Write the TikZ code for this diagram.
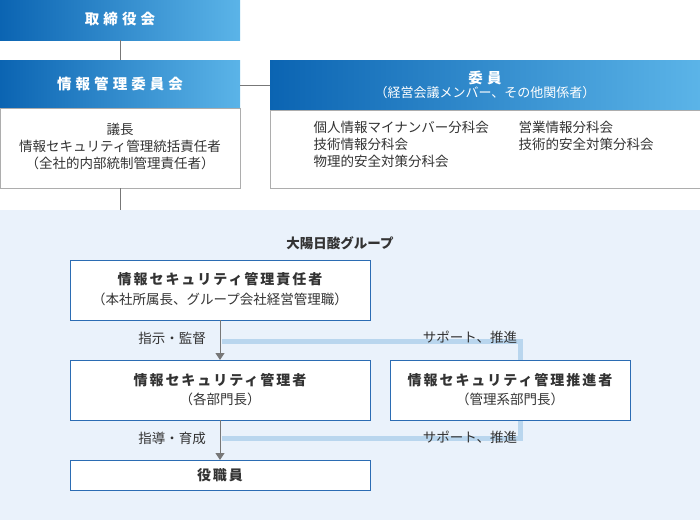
\documentclass[tikz,border=0pt]{standalone}
\usepackage{fontspec}
\setmainfont{Noto Sans CJK JP}
\newfontfamily\hdrfont[LetterSpace=28]{Noto Sans CJK JP}
\newfontfamily\boxfont[LetterSpace=14]{Noto Sans CJK JP}
\usetikzlibrary{arrows.meta}
\definecolor{hd1}{HTML}{0B64B2}
\definecolor{hd2}{HTML}{5BB4E8}
\definecolor{bord}{HTML}{2B6CB3}
\definecolor{bgl}{HTML}{EAF2FB}
\definecolor{sup}{HTML}{B9D6EE}
\definecolor{gry}{HTML}{777777}
\definecolor{txt}{HTML}{333333}
\tikzset{
  x=1pt,y=-1pt,
  hdrtxt/.style={text=white,font=\hdrfont\bfseries\fontsize{14.5}{18}\selectfont},
  body/.style={draw=gry!60,fill=white,line width=0.8pt},
  bx/.style={draw=bord,fill=white,line width=0.9pt},
  lbl/.style={text=txt,font=\fontsize{13.5}{17}\selectfont,align=center},
  blbl/.style={text=txt,font=\boxfont\bfseries\fontsize{14}{17}\selectfont,align=center},
  conn/.style={draw=gry,line width=1pt},
  arr/.style={conn,-{Triangle[width=9pt,length=7pt]}},
  supl/.style={draw=sup,line width=5pt}
}
\begin{document}
\begin{tikzpicture}
\useasboundingbox (0,0) rectangle (700,520);
\fill[bgl] (0,210) rectangle (700,520);
% top
\shade[left color=hd1,right color=hd2] (0,0) rectangle (240,40);
\node[hdrtxt] (tori) at (120,19) {取締役会};
\coordinate (toriB) at (120,40);
\shade[left color=hd1,right color=hd2] (0,60) rectangle (240,108);
\node[hdrtxt] (jk) at (120,84) {情報管理委員会};
\coordinate (jkT) at (120,60);
\draw[conn] (toriB) -- (jkT);
\draw[body] (0,108) rectangle (240,188);
\node[lbl] (jkb) at (120,146) {議長\\情報セキュリティ管理統括責任者\\（全社的内部統制管理責任者）};
\shade[left color=hd1,right color=hd2] (270,60) rectangle (700,110);
\node[text=white,align=center] (iin) at (485,85) {{\hdrfont\bfseries\fontsize{14.5}{18}\selectfont 委員}\\{\fontsize{13}{16}\selectfont（経営会議メンバー、その他関係者）}};
\draw[body] (270,110) rectangle (700,188);
\node[lbl,align=left,anchor=north west] (b1) at (310,118) {個人情報マイナンバー分科会\\技術情報分科会\\物理的安全対策分科会};
\node[lbl,align=left,anchor=north west] (b2) at (515,118) {営業情報分科会\\技術的安全対策分科会};
\coordinate (jR) at (240,85);
\coordinate (iL) at (270,85);
\draw[conn] (jR) -- (iL);
\coordinate (jB) at (120,188);
\coordinate (gT) at (120,210);
\draw[conn] (jB) -- (gT);
\node[text=txt,font=\bfseries\fontsize{13.5}{16}\selectfont] (grp) at (340,243) {大陽日酸グループ};
% support lines
\coordinate (s1) at (222,341);
\coordinate (s2) at (520,341);
\coordinate (s3) at (520,438);
\coordinate (s4) at (222,438);
\draw[supl] (s1) -- (s2) -- (s3) -- (s4);
\node[lbl,inner sep=1pt] (sp1) at (470,337) {サポート、推進};
\node[lbl,inner sep=1pt] (sp2) at (470,437) {サポート、推進};
% boxes
\draw[bx] (70,260) rectangle (370,320);
\node[blbl] (n1) at (220,279) {情報セキュリティ管理責任者};
\node[lbl] (n1b) at (220,299) {（本社所属長、グループ会社経営管理職）};
\draw[bx] (70,360) rectangle (370,420);
\node[blbl] (n2) at (220,380) {情報セキュリティ管理者};
\node[lbl] (n2b) at (220,399) {（各部門長）};
\draw[bx] (390,360) rectangle (630,420);
\node[blbl] (n3) at (510,380) {情報セキュリティ管理推進者};
\node[lbl] (n3b) at (510,399) {（管理系部門長）};
\draw[bx] (70,460) rectangle (370,490);
\node[blbl] (n4) at (220,475) {役職員};
\coordinate (a1) at (220,320); \coordinate (a2) at (220,360);
\coordinate (a3) at (220,420); \coordinate (a4) at (220,460);
\draw[arr] (a1) -- (a2);
\draw[arr] (a3) -- (a4);
\node[lbl] (l1) at (172,338) {指示・監督};
\node[lbl] (l2) at (172,438) {指導・育成};
\end{tikzpicture}
\end{document}
